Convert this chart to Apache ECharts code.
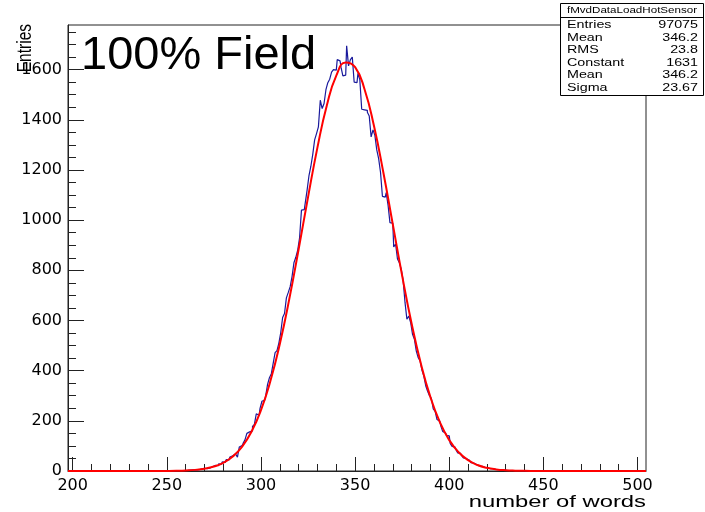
<!DOCTYPE html>
<html>
<head>
<meta charset="utf-8">
<script src="https://cdn.jsdelivr.net/npm/echarts@6/dist/echarts.min.js"></script>
<style>
  html, body { margin: 0; padding: 0; background: #fff; }
  #chart { width: 705px; height: 512px; }
</style>
</head>
<body>
<div id="chart"></div>
<script>
// histogram axis range (bin edges) and tick labels
const xMin = 197.5;
const xMax = 504.5;
const yMax = 1778;
const xTicks = [200, 250, 300, 350, 400, 450, 500];
const yTicks = [0, 200, 400, 600, 800, 1000, 1200, 1400, 1600];

// bin contents, one per word count, starting at binStart
const binStart = 250;
const counts = [
  0, 0, 1, 0, 1, 0, 2, 1, 2, 1,                       // 250
  3, 2, 4, 3, 5, 4, 7, 5, 8, 7,                       // 260
  11, 9, 14, 12, 18, 16, 23, 21, 29, 27,              // 270
  37, 34, 45, 44, 56, 61, 68, 74, 55, 96,             // 280
  102, 110, 124, 150, 156, 160, 178, 186, 228, 222,   // 290
  250, 278, 283, 300, 345, 372, 388, 430, 472, 480,   // 300
  510, 552, 612, 628, 690, 712, 735, 775, 830, 852,   // 310
  880, 930, 1040, 1042, 1068, 1120, 1178, 1215, 1262, 1320, // 320
  1345, 1372, 1478, 1445, 1465, 1520, 1548, 1562, 1590, 1600, // 330
  1598, 1640, 1635, 1610, 1575, 1578, 1695, 1615, 1640, 1650, // 340
  1550, 1548, 1585, 1560, 1442, 1440, 1438, 1430, 1415, 1332, // 350
  1360, 1338, 1280, 1245, 1190, 1095, 1092, 1110, 1060, 990,  // 360
  988, 893, 905, 845, 830, 805, 760, 672, 605, 618,   // 370
  592, 545, 525, 478, 452, 440, 402, 378, 340, 318,   // 380
  300, 290, 248, 238, 205, 198, 180, 158, 152, 142,   // 390
  140, 110, 98, 96, 86, 72, 70, 62, 52, 50,           // 400
  44, 40, 33, 32, 26, 25, 20, 19, 15, 15,             // 410
  12, 11, 9, 9, 7, 6, 5, 5, 3, 4,                     // 420
  3, 2, 2, 1, 2, 1, 0, 1                              // 430
];

// gaussian fit curve as drawn (red)
const fitX = [197.5, 240, 245, 250, 255, 260, 265, 270, 275, 280, 285, 290, 295,
  300, 305, 310, 315, 320, 325, 330, 335, 340, 345, 350, 355, 360, 365, 370,
  375, 380, 385, 390, 395, 400, 405, 410, 415, 420, 425, 430, 435, 440, 445, 450, 504.5];
const fitY = [0, 0.1, 0.2, 0.4, 1, 2.2, 4.5, 9.2, 17.7, 32.6, 57.6, 97.3, 157.2,
  242.7, 358.5, 506.4, 684.2, 884, 1092, 1290, 1458, 1576, 1629, 1610, 1522, 1376, 1190, 984,
  778, 588, 425.6, 294.4, 194.7, 123.2, 74.6, 43.1, 23.9, 12.6, 6.4, 3.1, 1.4, 0.6, 0.3, 0.1, 0];

const statTitle = "fMvdDataLoadHotSensor";
const statLabels = ["Entries", "Mean", "RMS", "Constant", "Mean", "Sigma"];
const statValues = ["97075", "346.2", "23.8", "1631", "346.2", "23.67"];

const histData = [];
for (let n = Math.ceil(xMin); n <= Math.floor(xMax); n++) {
  const c = counts[n - binStart];
  histData.push([n, c === undefined ? 0 : c]);
}
const fitData = fitX.map((x, i) => [x, fitY[i]]);

// minor tick positions between the labelled ones
const xMinor = [];
xTicks.forEach(t => { for (let k = 10; k < 50; k += 10) if (t + k < xMax) xMinor.push(t + k); });
const yMinor = [];
yTicks.forEach(t => { for (let k = 50; k < 200; k += 50) if (t + k < yMax) yMinor.push(t + k); });

const axisColor = "#222";
const tickFont = { color: "#000", fontFamily: "DejaVu Sans", fontSize: 16, formatter: v => String(v) };
const helv = '"Liberation Sans", Arial, sans-serif';

const chart = echarts.init(document.getElementById("chart"));

const graphic = [
  {
    type: "text", x: 81, y: 56, z: 50,
    style: { text: "100% Field", font: "47px " + helv, fill: "#000", align: "left", verticalAlign: "middle" }
  },
  {
    type: "text", x: 36, y: 24, rotation: Math.PI / 2, scaleY: 1.25, z: 50,
    style: { text: "Entries", font: "15.5px " + helv, fill: "#000", align: "right", verticalAlign: "bottom" }
  },
  {
    type: "text", x: 646, y: 502.5, scaleX: 1.4, z: 50,
    style: { text: "number of words", font: "17px " + helv, fill: "#000", align: "right", verticalAlign: "middle" }
  },
  {
    type: "rect", z: 60,
    shape: { x: 560.5, y: 3.5, width: 143, height: 92 },
    style: { fill: "#fff", stroke: "#000", lineWidth: 1 }
  },
  {
    type: "line", z: 61,
    shape: { x1: 560.5, y1: 17.5, x2: 703.5, y2: 17.5 },
    style: { stroke: "#000", lineWidth: 1 }
  },
  {
    type: "text", x: 632, y: 10.5, scaleX: 1.22, z: 61,
    style: { text: statTitle, font: "9.5px " + helv, fill: "#000", align: "center", verticalAlign: "middle" }
  }
];
statLabels.forEach((lab, i) => {
  const y = 25 + i * 12.6;
  graphic.push({
    type: "text", x: 567, y: y, scaleX: 1.3, z: 61,
    style: { text: lab, font: "11px " + helv, fill: "#000", align: "left", verticalAlign: "middle" }
  });
  graphic.push({
    type: "text", x: 698, y: y, scaleX: 1.3, z: 61,
    style: { text: statValues[i], font: "11px " + helv, fill: "#000", align: "right", verticalAlign: "middle" }
  });
});

const option = {
  animation: false,
  backgroundColor: "#fff",
  grid: {
    left: 68, right: 59, top: 25, bottom: 41,
    show: true, borderColor: axisColor, borderWidth: 1, backgroundColor: "transparent"
  },
  xAxis: [
    {
      type: "value", min: xMin, max: xMax, position: "bottom",
      axisLine: { show: true, lineStyle: { color: axisColor } },
      axisTick: { show: true, inside: true, length: 14, customValues: xTicks, lineStyle: { color: axisColor } },
      axisLabel: { show: true, customValues: xTicks, margin: 7, ...tickFont },
      splitLine: { show: false }
    },
    {
      type: "value", min: xMin, max: xMax, position: "bottom", offset: 0,
      axisLine: { show: false },
      axisTick: { show: true, inside: true, length: 7, customValues: xMinor, lineStyle: { color: axisColor } },
      axisLabel: { show: false },
      splitLine: { show: false }
    }
  ],
  yAxis: [
    {
      type: "value", min: 0, max: yMax, position: "left",
      axisLine: { show: true, lineStyle: { color: axisColor } },
      axisTick: { show: true, inside: true, length: 16, customValues: yTicks, lineStyle: { color: axisColor } },
      axisLabel: { show: true, customValues: yTicks, margin: 6, ...tickFont },
      splitLine: { show: false }
    },
    {
      type: "value", min: 0, max: yMax, position: "left", offset: 0,
      axisLine: { show: false },
      axisTick: { show: true, inside: true, length: 8, customValues: yMinor, lineStyle: { color: axisColor } },
      axisLabel: { show: false },
      splitLine: { show: false }
    }
  ],
  series: [
    {
      name: "fMvdDataLoadHotSensor",
      type: "line",
      step: "middle",
      data: histData,
      showSymbol: false,
      xAxisIndex: 0, yAxisIndex: 0,
      lineStyle: { color: "#1a1a9c", width: 1.2 },
      z: 3
    },
    {
      name: "gaus",
      type: "line",
      smooth: true,
      data: fitData,
      showSymbol: false,
      xAxisIndex: 0, yAxisIndex: 0,
      lineStyle: { color: "#ff0000", width: 2 },
      z: 4
    }
  ],
  graphic: graphic
};

chart.setOption(option);
</script>
</body>
</html>
